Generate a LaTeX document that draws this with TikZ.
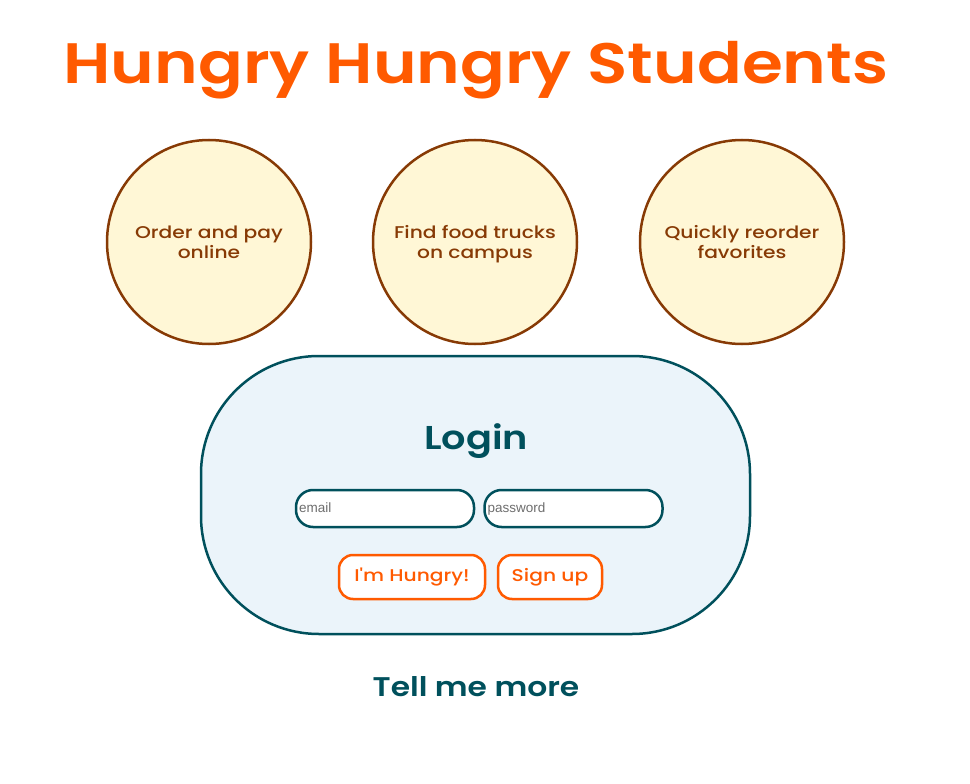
\documentclass[tikz,border=0pt]{standalone}
\usepackage{fontspec}
\setmainfont{Poppins}
\newfontfamily\widefont[FakeStretch=1.19]{Poppins Medium}
\newfontfamily\headfont[FakeStretch=1.16]{Poppins SemiBold}
\newfontfamily\fieldfont{Liberation Sans}
\definecolor{hungryorange}{RGB}{255,90,0}
\definecolor{crustbrown}{RGB}{135,58,5}
\definecolor{butteryellow}{RGB}{255,247,214}
\definecolor{loginteal}{RGB}{0,80,92}
\definecolor{loginblue}{RGB}{235,244,250}
\definecolor{hintgray}{RGB}{110,110,110}

\begin{document}
\begin{tikzpicture}[x=1pt,y=-1pt]

%
% Styles
%
\tikzstyle{feature} = [circle,draw=crustbrown,fill=butteryellow,line width=2.5pt,minimum size=204pt,inner sep=0pt,align=center,text depth=0pt,text=crustbrown,font=\widefont\fontsize{17}{20}\selectfont]
\tikzstyle{panel} = [rectangle,rounded corners=118pt,draw=loginteal,fill=loginblue,line width=2.5pt,minimum width=549pt,minimum height=278pt]
\tikzstyle{field} = [rectangle,rounded corners=17pt,draw=loginteal,fill=white,line width=2.5pt,minimum height=37pt,text width=172pt,inner xsep=3pt,align=left,text height=10pt,text depth=3pt,text=hintgray,font=\fieldfont\fontsize{13.5}{15}\selectfont]
\tikzstyle{button} = [rectangle,rounded corners=14pt,draw=hungryorange,fill=white,line width=2.5pt,minimum height=44pt,text height=12pt,text depth=3pt,text=hungryorange,font=\widefont\fontsize{17}{20}\selectfont]

\useasboundingbox (0,0) rectangle (970,784);

\node[text=hungryorange,font=\headfont\fontsize{57}{60}\selectfont] (title) at (476,70) {Hungry Hungry Students};

\node[feature] (order) at  (209,242) {Order and pay\\online};
\node[feature] (trucks) at (475,242) {Find food trucks\\on campus};
\node[feature] (reorder) at (742,242) {Quickly reorder\\favorites};

\node[panel] (login) at (475.5,495) {};
\node[text=loginteal,font=\headfont\fontsize{33}{36}\selectfont] (logintitle) at (476,441) {Login};

\node[field] (email) at    (385,508.5) {email};
\node[field] (password) at (573.5,508.5) {password};

\node[button,minimum width=146pt] (hungry) at (412,577) {I'm Hungry!};
\node[button,minimum width=104pt] (signup) at (550,577) {Sign up};

\node[text=loginteal,font=\headfont\fontsize{27}{30}\selectfont] (more) at (476,687) {Tell me more};

\end{tikzpicture}
\end{document}
